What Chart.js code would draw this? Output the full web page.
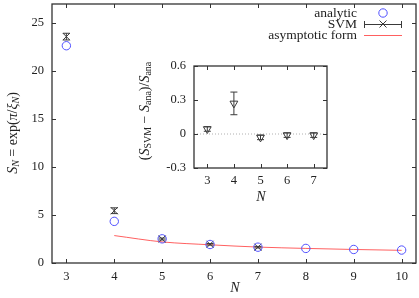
<!DOCTYPE html>
<html><head><meta charset="utf-8">
<script src="https://cdn.jsdelivr.net/npm/chart.js@4/dist/chart.umd.min.js"></script>
<style>
html,body{margin:0;padding:0;background:#fff;}
#wrap{position:relative;width:419px;height:298px;overflow:hidden;}
#main{position:absolute;left:0;top:-2px;}
#inset{position:absolute;left:130px;top:55px;}
</style></head><body>
<div id="wrap"><canvas id="main" width="422" height="300"></canvas><canvas id="inset" width="210" height="150"></canvas></div>
<script>
// ---- data ----
const N_all = [3,4,5,6,7,8,9,10];
const analytic = [22.65,4.34,2.52,1.93,1.65,1.52,1.41,1.35];
const N_svm = [3,4,5,6,7];
const svm = [23.6,5.45,2.5,1.95,1.65];
const svmErr = [0.35,0.3,0.1,0.08,0.08];
const N_asym = [4,5,6,7,8,9,10];
const asym = [2.86,2.2,1.9,1.66,1.52,1.41,1.32];
const mainXTicks = [3,4,5,6,7,8,9,10];
const mainYTicks = [0,5,10,15,20,25];
const N_rel = [3,4,5,6,7];
const relDiff = [0.044,0.27,-0.03,-0.01,-0.01];
const relErr = [0.02,0.1,0.02,0.02,0.02];
const zeroX = [2.5,7.5];
const zeroY = [0,0];
const insetXTicks = [3,4,5,6,7];
const insetYTicks = [-0.3,0,0.3,0.6];
const legendLabels = ['analytic','SVM','asymptotic form'];

const BLUE='#5050ff', DARK='#3a3a3a', RED='#ff6060';
const FONT='"Liberation Serif", "Times New Roman", serif';
const R='14px '+FONT, I='italic 14px '+FONT, S='italic 10px '+FONT, SR='10px '+FONT;
const LEG='13.5px '+FONT;
const OY=2; // main canvas is shifted up by 2px

function pts(xs, ys){ return xs.map((v,i)=>({x:v,y:ys[i]})); }

function drawRich(ctx, runs, cx, cy, rot){
  ctx.save(); ctx.translate(cx,cy); ctx.rotate(rot);
  ctx.fillStyle='#222'; ctx.textBaseline='middle'; ctx.textAlign='left';
  let w=0; runs.forEach(r=>{ctx.font=r[1]; w+=ctx.measureText(r[0]).width;});
  let x=-w/2;
  runs.forEach(r=>{ctx.font=r[1]; ctx.fillText(r[0], x, r[2]||0); x+=ctx.measureText(r[0]).width;});
  ctx.restore();
}

function frameTicks(chart, xTicks, yTicks, len){
  const {ctx, chartArea:a, scales:{x,y}} = chart;
  ctx.save(); ctx.strokeStyle='#333'; ctx.lineWidth=1;
  ctx.beginPath();
  xTicks.forEach(v=>{const px=Math.round(x.getPixelForValue(v))+0.5; ctx.moveTo(px,a.bottom); ctx.lineTo(px,a.bottom-len); ctx.moveTo(px,a.top); ctx.lineTo(px,a.top+len);});
  yTicks.forEach(v=>{const py=Math.round(y.getPixelForValue(v))+0.5; ctx.moveTo(a.left,py); ctx.lineTo(a.left+len,py); ctx.moveTo(a.right,py); ctx.lineTo(a.right-len,py);});
  ctx.stroke();
  ctx.lineWidth=1.3; ctx.strokeRect(a.left, a.top, a.right-a.left, a.bottom-a.top);
  ctx.restore();
}

function errorBars(chart, cap){
  const {ctx} = chart;
  const xs = chart.scales.x, ys = chart.scales.y;
  chart.data.datasets.forEach((ds)=>{
    if(!ds.errors) return;
    ctx.save(); ctx.strokeStyle=ds.borderColor; ctx.lineWidth=1;
    ds.data.forEach((p,j)=>{
      const px = xs.getPixelForValue(p.x), e=ds.errors[j];
      const y1 = ys.getPixelForValue(p.y+e), y2=ys.getPixelForValue(p.y-e);
      ctx.beginPath(); ctx.moveTo(px,y1); ctx.lineTo(px,y2);
      ctx.moveTo(px-cap,y1); ctx.lineTo(px+cap,y1); ctx.moveTo(px-cap,y2); ctx.lineTo(px+cap,y2);
      ctx.stroke();
    });
    ctx.restore();
  });
}

const tickFont = {family:FONT, size:12.5};
function axisOpts(min,max,tickArr,fit,pad,cb){
  const o = {type:'linear', min, max,
    afterBuildTicks:s=>{s.ticks=tickArr.map(v=>({value:v}));},
    afterFit:s=>{fit(s); s.paddingTop=0; s.paddingBottom=0; s.paddingLeft=0; s.paddingRight=0;},
    grid:{display:false, drawTicks:false}, border:{display:false},
    ticks:{padding:pad, color:'#222', font:tickFont, autoSkip:false, maxRotation:0}};
  if(cb) o.ticks.callback=cb;
  return o;
}

// ---- main chart ----
new Chart(document.getElementById('main'), {
  type:'scatter',
  data:{datasets:[
    {label:legendLabels[0], data:pts(N_all,analytic), pointStyle:'circle', pointRadius:4.2, borderColor:BLUE, backgroundColor:'rgba(0,0,0,0)', borderWidth:1},
    {label:legendLabels[1], data:pts(N_svm,svm), errors:svmErr, pointStyle:'crossRot', pointRadius:5, borderColor:DARK, backgroundColor:DARK, borderWidth:1},
    {label:legendLabels[2], type:'line', data:pts(N_asym,asym), showLine:true, cubicInterpolationMode:'monotone', pointRadius:0, borderColor:RED, borderWidth:1, fill:false}
  ]},
  options:{
    responsive:false, animation:false, devicePixelRatio:1,
    layout:{padding:{top:0,right:0,left:0,bottom:0}},
    plugins:{legend:{display:false}, tooltip:{enabled:false}},
    scales:{
      x: axisOpts(2.7,10.3,mainXTicks,s=>{s.height=35;},6),
      y: axisOpts(0,27,mainYTicks,s=>{s.width=52;},8)
    }
  },
  plugins:[{id:'mainDeco',
    afterDatasetsDraw(chart){
      errorBars(chart,3.5);
      frameTicks(chart, mainXTicks, mainYTicks, 4);
    },
    afterDraw(chart){
      const ctx=chart.ctx;
      // axis titles
      drawRich(ctx, [['N',I]], 235, 288+OY, 0);
      drawRich(ctx, [['S',I],['N',S,3],[' = exp(',R],['π',I],['/',R],['ξ',I],['N',S,3],[')',R]], 13, 133+OY, -Math.PI/2);
      // legend
      ctx.save();
      ctx.font=LEG; ctx.fillStyle='#222'; ctx.textAlign='right'; ctx.textBaseline='middle';
      const ly=[13+OY,24+OY,35+OY];
      legendLabels.forEach((t,i)=>ctx.fillText(t,357,ly[i]));
      ctx.strokeStyle=BLUE; ctx.lineWidth=1;
      ctx.beginPath(); ctx.arc(383,ly[0],4.2,0,Math.PI*2); ctx.stroke();
      ctx.strokeStyle=DARK; ctx.beginPath();
      ctx.moveTo(364,ly[1]+0.5); ctx.lineTo(402,ly[1]+0.5);
      ctx.moveTo(364.5,ly[1]-3); ctx.lineTo(364.5,ly[1]+4);
      ctx.moveTo(401.5,ly[1]-3); ctx.lineTo(401.5,ly[1]+4);
      ctx.moveTo(379.5,ly[1]-3.5); ctx.lineTo(386.5,ly[1]+3.5);
      ctx.moveTo(386.5,ly[1]-3.5); ctx.lineTo(379.5,ly[1]+3.5);
      ctx.stroke();
      ctx.strokeStyle=RED; ctx.beginPath(); ctx.moveTo(364,ly[2]+0.5); ctx.lineTo(402,ly[2]+0.5); ctx.stroke();
      ctx.restore();
    }
  }]
});

// ---- inset chart ----
new Chart(document.getElementById('inset'), {
  type:'scatter',
  data:{datasets:[
    {label:'rel', data:pts(N_rel,relDiff), errors:relErr, pointStyle:'triangle', rotation:180, pointRadius:4.5, borderColor:DARK, backgroundColor:'rgba(0,0,0,0)', borderWidth:1},
    {label:'zero', type:'line', data:pts(zeroX,zeroY), showLine:true, pointRadius:0, borderColor:'#b0b0b0', borderDash:[1,2], borderWidth:1, fill:false}
  ]},
  options:{
    responsive:false, animation:false, devicePixelRatio:1,
    layout:{padding:{top:11,right:13,left:0,bottom:0}},
    plugins:{legend:{display:false}, tooltip:{enabled:false}},
    scales:{
      x: axisOpts(2.5,7.5,insetXTicks,s=>{s.height=37;},5),
      y: axisOpts(-0.3,0.6,insetYTicks,s=>{s.width=64;},8, v=>v===0?'0':v.toFixed(1))
    }
  },
  plugins:[{id:'insetDeco',
    afterDatasetsDraw(chart){
      errorBars(chart,3.5);
      frameTicks(chart, insetXTicks, insetYTicks, 4);
    },
    afterDraw(chart){
      const ctx=chart.ctx;
      drawRich(ctx, [['N',I]], 131, 142, 0);
      drawRich(ctx, [['(',R],['S',I],['SVM',SR,3],[' − ',R],['S',I],['ana',SR,3],[')/',R],['S',I],['ana',SR,3]], 15, 56, -Math.PI/2);
    }
  }]
});
</script>
</body></html>
